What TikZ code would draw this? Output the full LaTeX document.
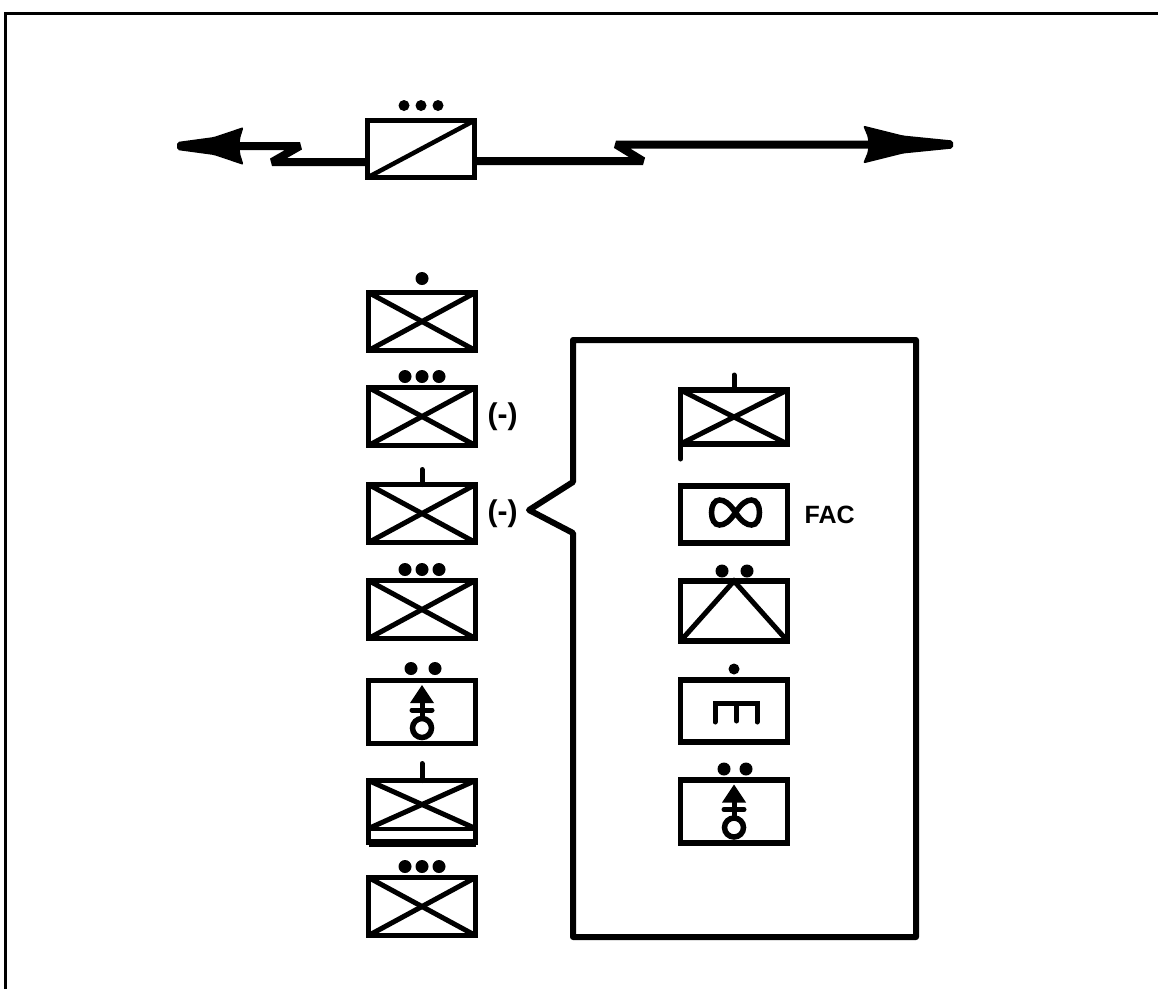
\documentclass[tikz,border=0pt]{standalone}
\usepackage{fontspec}
\setmainfont{Liberation Sans}
\usetikzlibrary{positioning}
\tikzset{
	unitbox/.style={draw, rectangle, line width=5.5pt, outer sep=0pt, inner sep=0pt, minimum width=107pt, minimum height=58pt},
	crossbox/.style={unitbox, path picture={
			\draw[line width=5pt] (path picture bounding box.north west) -- (path picture bounding box.south east);
			\draw[line width=5pt] (path picture bounding box.south west) -- (path picture bounding box.north east);
		}},
	echdot/.style={circle, fill, inner sep=0pt, minimum size=13pt},
	tickline/.style={line width=5pt, line cap=round},
	symline/.style={line width=5pt, line cap=round},
	heavyline/.style={line width=8pt, line join=bevel},
	panelline/.style={line width=6pt, line join=round},
	marktext/.style={font=\bfseries\fontsize{30}{30}\selectfont, inner sep=0pt},
	wheelsym/.pic={
			\fill (0,-27) -- (12,-9) -- (-12,-9) -- cycle;
			\draw[symline] (0,-10) -- (0,6);
			\draw[symline] (-10,-2) -- (10,-2);
			\draw[line width=5.5pt] (0,16) circle (9.5);
		},
	loopsym/.pic={
			\draw[line width=5.5pt] (0,0) .. controls (-6,-9) and (-11,-12.5) .. (-16,-12.5) .. controls (-21,-12.5) and (-24,-7) .. (-24,0) .. controls (-24,7) and (-21,12.5) .. (-16,12.5) .. controls (-11,12.5) and (-6,9) .. (0,0) .. controls (6,-9) and (11,-12.5) .. (16,-12.5) .. controls (21,-12.5) and (24,-7) .. (24,0) .. controls (24,7) and (21,12.5) .. (16,12.5) .. controls (11,12.5) and (6,9) .. (0,0);
		},
	combsym/.pic={
			\draw[symline] (-19,11) -- (-19,-7.5) -- (23,-7.5) -- (23,11);
			\draw[symline] (2.5,-7.5) -- (2.5,10);
		},
	headsym/.pic={
			\fill[rounded corners=2pt] (0,-4) -- (-50,-9) -- (-90,-19) -- (-85,-7) -- (-85,7) -- (-90,19) -- (-50,9) -- (0,4) -- cycle;
		},
}
\begin{document}
\begin{tikzpicture}[x=1pt, y=-1pt]
	\useasboundingbox (0,0) rectangle (1158,989);
	\draw[line width=3pt] (5.5,989) -- (5.5,13) -- (1158,13);

	% top link
	\node[unitbox, minimum height=57pt] (relay) at (421,149) {};
	\draw[line width=4.5pt] (relay.south west) -- (relay.north east);
	\foreach \i/\dx in {1/-17,2/0,3/17}
		\node[echdot, minimum size=11pt] (relay\i) at ([xshift=\dx pt, yshift=15pt]relay.north) {};
	\coordinate (headl) at (177,146);
	\coordinate (headr) at (953,144.5);
	\coordinate (zigla) at (300,146);
	\coordinate (ziglb) at (272,162);
	\coordinate (zigra) at (643,161);
	\coordinate (zigrb) at (616,144.5);
	\draw[heavyline] (relay.west |- ziglb) -- (ziglb) -- (zigla) -- (235,146);
	\draw[heavyline] (relay.east |- zigra) -- (zigra) -- (zigrb) -- (875,144.5);
	\pic[xscale=-0.74] at (headl) {headsym};
	\pic at (headr) {headsym};

	% left column
	\node[crossbox] (c1) at (422,321.5) {};
	\node[crossbox, below=37pt of c1] (c2) {};
	\node[crossbox, below=39pt of c2] (c3) {};
	\node[crossbox, below=38pt of c3] (c4) {};
	\node[unitbox, minimum height=63pt, below=42pt of c4] (c5) {};
	\node[unitbox, minimum height=62pt, below=37pt of c5] (c6) {};
	\node[crossbox, below=35pt of c6] (c7) {};
	\coordinate (c6l) at ([yshift=14pt]c6.south west);
	\coordinate (c6r) at ([yshift=14pt]c6.south east);
	\draw[line width=4pt] (c6l) -- (c6r);
	\draw[line width=5pt] (c6.north west) -- (c6r);
	\draw[line width=5pt] (c6l) -- (c6.north east);
	\draw[line width=8pt] (c6.south west) -- (c6.south east);
	\node[echdot] (c1d) at ([yshift=14pt]c1.north) {};
	\foreach \n in {c2,c4,c7}
		\foreach \i/\dx in {1/-17,2/0,3/17}
			\node[echdot] (\n\i) at ([xshift=\dx pt, yshift=11pt]\n.north) {};
	\foreach \i/\dx in {1/-11,2/13}
		\node[echdot] (c5\i) at ([xshift=\dx pt, yshift=12pt]c5.north) {};
	\draw[tickline] (c3.north) -- ++(0,-15);
	\draw[tickline] (c6.north) -- ++(0,-17);
	\pic at (c5) {wheelsym};
	\node[marktext, right=12pt of c2] (c2m) {(-)};
	\node[marktext, right=12pt of c3] (c3m) {(-)};

	% callout panel
	\draw[panelline] (573,340) -- (916,340) -- (916,937) -- (573,937) -- (573,533) -- (529,510) -- (573,482) -- cycle;
	\node[crossbox, minimum height=54pt] (p1) at (734,417) {};
	\node[unitbox, minimum height=57pt, below=42pt of p1] (p2) {};
	\node[unitbox, minimum height=60pt, below=38pt of p2] (p3) {};
	\node[unitbox, minimum height=62pt, below=39pt of p3] (p4) {};
	\node[unitbox, minimum height=63pt, below=38pt of p4] (p5) {};
	\coordinate (p1t) at ([yshift=-15pt]p1.south west);
	\draw[tickline] (p1.south west) -- (p1t);
	\draw[tickline] (p1.north) -- ++(0,-15);
	\pic at ([xshift=1.5pt, yshift=2pt]p2.center) {loopsym};
	\node[marktext, font=\bfseries\fontsize{25}{25}\selectfont, right=17pt of p2] (p2m) {FAC};
	\draw[line width=5pt] (p3.south west) -- (p3.north) -- (p3.south east);
	\foreach \i/\dx in {1/-12,2/13}
		\node[echdot] (p3\i) at ([xshift=\dx pt, yshift=10pt]p3.north) {};
	\node[echdot, minimum size=11pt] (p41) at ([yshift=11pt]p4.north) {};
	\pic at (p4) {combsym};
	\foreach \i/\dx in {1/-10,2/12}
		\node[echdot] (p5\i) at ([xshift=\dx pt, yshift=11pt]p5.north) {};
	\pic at (p5) {wheelsym};
\end{tikzpicture}
\end{document}
